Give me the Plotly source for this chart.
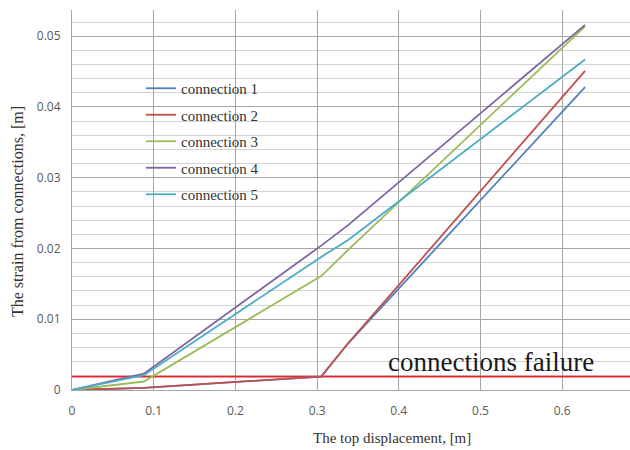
import plotly.graph_objects as go

# Data
displacement = [0, 0.088, 0.305, 0.338, 0.628]
connection_1 = [0, 0.0003, 0.0019, 0.0066, 0.0428]
connection_2 = [0, 0.0003, 0.0019, 0.0066, 0.0451]
connection_3 = [0, 0.0012, 0.0161, 0.0198, 0.0514]
connection_4 = [0, 0.0023, 0.0204, 0.0233, 0.0516]
connection_5 = [0, 0.0021, 0.0188, 0.0212, 0.0467]
series_names = ["connection 1", "connection 2", "connection 3", "connection 4", "connection 5"]
series_colors = ["#4F81BD", "#C0504D", "#9BBB59", "#8064A2", "#4BACC6"]
failure_x = [0, 0.683]
failure_level = [0.0019, 0.0019]
x_ticks = [0, 0.1, 0.2, 0.3, 0.4, 0.5, 0.6]
x_tick_labels = ["0", "0.1", "0.2", "0.3", "0.4", "0.5", "0.6"]
y_ticks = [0, 0.01, 0.02, 0.03, 0.04, 0.05]
y_tick_labels = ["0", "0.01", "0.02", "0.03", "0.04", "0.05"]

series = [connection_1, connection_2, connection_3, connection_4, connection_5]

fig = go.Figure()

fig.add_trace(go.Scatter(x=failure_x, y=failure_level, mode="lines",
                         line=dict(color="#E3262B", width=1.8),
                         showlegend=False, hoverinfo="skip"))

for i, (name, vals, col) in enumerate(zip(series_names, series, series_colors)):
    fig.add_trace(go.Scatter(x=displacement, y=vals, mode="lines", name=name,
                             legendgroup="g%d" % i,
                             line=dict(color=col, width=1.8)))

serif = "Liberation Serif, Times New Roman, serif"
sans = "Open Sans, Liberation Sans, sans-serif"

W, H = 558, 380  # plot area size
L, T = 72, 10

def px_x(p):
    return (p - L) / W

def px_y(p):
    return (T + H - p) / H

fig.update_layout(
    width=630, height=450,
    margin=dict(l=72, r=0, t=10, b=60),
    paper_bgcolor="white", plot_bgcolor="white",
    showlegend=True,
    legend=dict(x=px_x(141), y=px_y(72), xanchor="left", yanchor="top",
                bgcolor="rgba(255,255,255,0)", borderwidth=0,
                font=dict(family=serif, size=15, color="#333333"),
                traceorder="grouped", tracegroupgap=4,
                itemwidth=30),
    shapes=[dict(type="rect", xref="paper", yref="paper",
                 x0=px_x(125), x1=px_x(292), y0=px_y(205), y1=px_y(73),
                 fillcolor="white", line=dict(width=0), layer="below")],
    xaxis=dict(range=[0, 0.683], tickvals=x_ticks, ticktext=x_tick_labels,
               showgrid=True, gridcolor="#a6a6a6", gridwidth=1,
               zeroline=False, showline=True, linecolor="#a6a6a6",
               ticks="", ticklabelstandoff=10,
               tickfont=dict(family=sans, size=12, color="#595959")),
    yaxis=dict(range=[0, 0.0537], tickvals=y_ticks, ticktext=y_tick_labels,
               showgrid=True, gridcolor="#a6a6a6", gridwidth=1,
               zeroline=False, showline=True, linecolor="#a6a6a6",
               ticks="", ticklabelstandoff=8,
               minor=dict(tickvals=[v / 1000 for v in range(0, 54, 2)],
                          showgrid=True, gridcolor="#d4d4d4", gridwidth=1),
               tickfont=dict(family=sans, size=12, color="#595959")),
    annotations=[
        dict(text="The top displacement, [m]", xref="paper", yref="paper",
             x=px_x(392), y=px_y(438), xanchor="center", yanchor="middle",
             showarrow=False, font=dict(family=serif, size=15, color="#333333")),
        dict(text="The strain from connections, [m]", xref="paper", yref="paper",
             x=px_x(17), y=px_y(212), xanchor="center", yanchor="middle",
             textangle=-90, showarrow=False,
             font=dict(family=serif, size=16, color="#333333")),
        dict(text="connections failure", xref="x", yref="y",
             x=0.641, y=0.0039, xanchor="right", yanchor="middle",
             showarrow=False, font=dict(family=serif, size=27, color="#1a1a1a")),
    ],
)

fig.write_html("out.html")
